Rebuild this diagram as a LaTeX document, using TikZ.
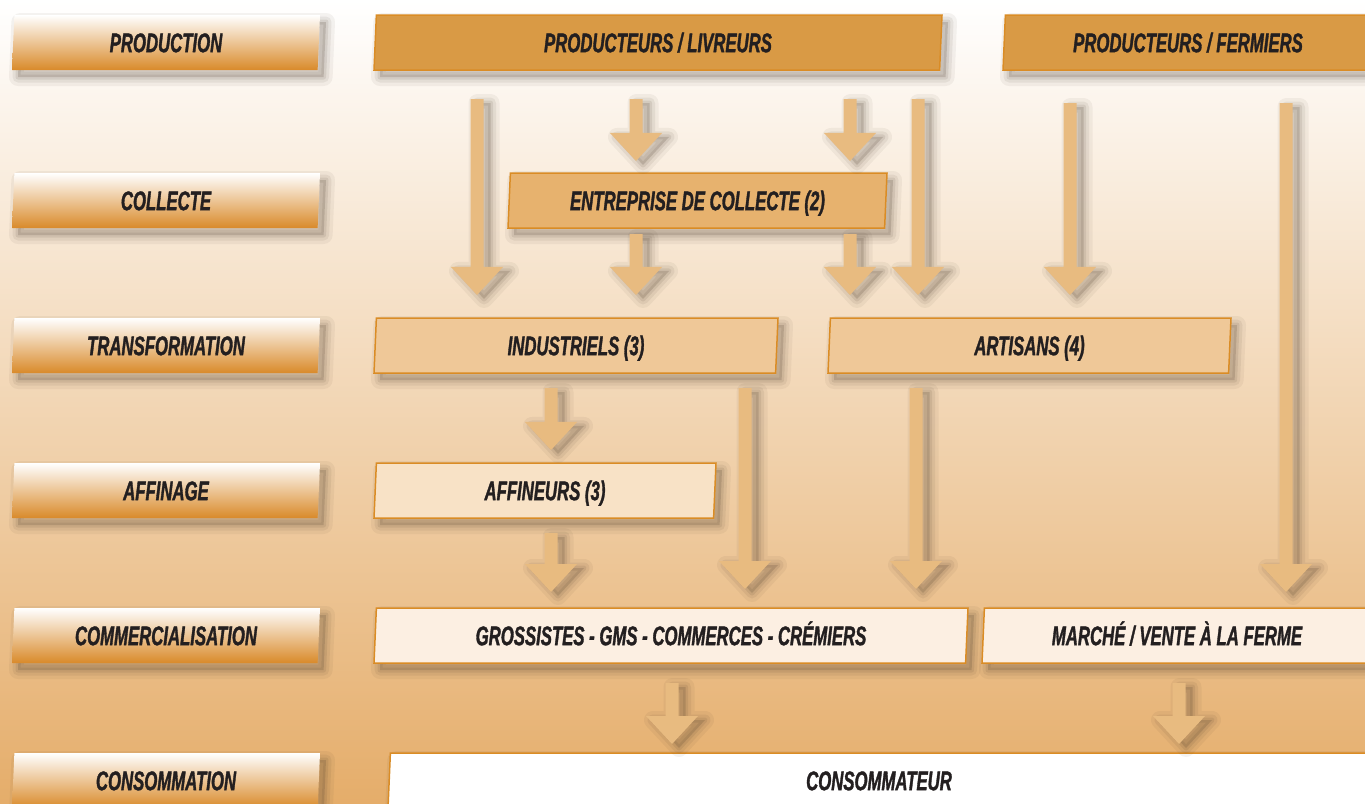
\documentclass[tikz,border=0pt]{standalone}
\usepackage{fontspec}
\newfontfamily\cnfont[FakeStretch=0.62, FakeBold=1.2]{Liberation Sans}
\usetikzlibrary{shapes.geometric,calc}

\definecolor{bgbot}{HTML}{E5AD6A}
\definecolor{lblmid}{HTML}{EEBE86}
\definecolor{lblbot}{HTML}{D98A2A}
\definecolor{brd}{HTML}{DA8C25}
\definecolor{prodfill}{HTML}{D99A45}
\definecolor{colfill}{HTML}{E7B26E}
\definecolor{trfill}{HTML}{EFC898}
\definecolor{affill}{HTML}{F8E2C6}
\definecolor{comfill}{HTML}{FCEFE2}
\definecolor{arrfill}{HTML}{E8BB80}
\definecolor{txtcol}{HTML}{231F20}
\definecolor{shcol}{HTML}{4A3A2A}

\tikzset{
  % soft shadow made of a few see-through layers
  softshadow/.style 2 args={
    preaction={draw=shcol, opacity=0.06, line width=9pt, line join=round, transform canvas={xshift=#1,yshift=#2}},
    preaction={draw=shcol, opacity=0.08, line width=5.5pt, line join=round, transform canvas={xshift=#1,yshift=#2}},
    preaction={draw=shcol, opacity=0.10, line width=2.5pt, line join=round, transform canvas={xshift=#1,yshift=#2}},
    preaction={fill=shcol, opacity=0.18, transform canvas={xshift=#1,yshift=#2}}},
  slbox/.style={trapezium, trapezium left angle=83, trapezium right angle=97,
    trapezium stretches body, minimum height=27.5pt, inner sep=0pt, outer sep=0pt,
    font=\cnfont\bfseries\itshape\fontsize{13.5}{16}\selectfont, text=txtcol,
    text height=9.7pt, text depth=0pt, softshadow={3pt}{-3.5pt}},
  lbl/.style={slbox, minimum width=154pt, top color=white, middle color=lblmid, bottom color=lblbot},
  flowbox/.style={slbox, draw=brd, line width=0.75pt, fill=#1},
  arrowsty/.style={fill=arrfill, softshadow={3.5pt}{-2pt}}
}

% fat arrow: x (px), from node, to node, gap below source, gap above target (px)
\newcommand{\fatarr}[5]{%
  \fill[arrowsty] let \p1=(#2.south), \p2=(#3.north) in
    (#1*0.5pt-3.25pt,\y1-#4*0.5pt) -- (#1*0.5pt+3.25pt,\y1-#4*0.5pt)
    -- (#1*0.5pt+3.25pt,\y2+#5*0.5pt+14pt) -- (#1*0.5pt+13pt,\y2+#5*0.5pt+14pt)
    -- (#1*0.5pt,\y2+#5*0.5pt) -- (#1*0.5pt-13pt,\y2+#5*0.5pt+14pt)
    -- (#1*0.5pt-3.25pt,\y2+#5*0.5pt+14pt) -- cycle;}

\begin{document}
\begin{tikzpicture}[x=0.5pt,y=-0.5pt]
	\useasboundingbox (0,0) rectangle (1365,803);
	% background
	\fill[top color=white, bottom color=bgbot] (0,0) rectangle (1365,803);
	
	% stage labels on the left
	\node[lbl] (lprod) at (166,42.5) {PRODUCTION};
	\node[lbl] (lcol) at (166,200.5) {COLLECTE};
	\node[lbl] (ltrans) at (166,345.5) {TRANSFORMATION};
	\node[lbl] (laff) at (166,490.5) {AFFINAGE};
	\node[lbl] (lcom) at (166,635.5) {COMMERCIALISATION};
	\node[lbl] (lcons) at (166,780.5) {CONSOMMATION};
	
	% production
	\node[flowbox=prodfill, minimum width=284pt] (prodliv) at (658,42.5) {PRODUCTEURS / LIVREURS};
	\node[flowbox=prodfill, minimum width=185pt] (prodferm) at (1188,42.5) {PRODUCTEURS / FERMIERS};
	
	% collecte
	\node[flowbox=colfill, minimum width=189.5pt] (collecte) at (697.5,200.5) {ENTREPRISE DE COLLECTE (2)};
	
	% transformation
	\node[flowbox=trfill, minimum width=202pt] (indus) at (576,345.5) {INDUSTRIELS (3)};
	\node[flowbox=trfill, minimum width=201.5pt] (artis) at (1029.5,345.5) {ARTISANS (4)};
	
	% affinage
	\node[flowbox=affill, minimum width=171pt] (affin) at (545,490.5) {AFFINEURS (3)};
	
	% commercialisation
	\node[flowbox=comfill, minimum width=297pt] (gross) at (671,635.5) {GROSSISTES - GMS - COMMERCES - CRÉMIERS};
	\node[flowbox=comfill, minimum width=195pt] (marche) at (1177,635.5) {MARCHÉ / VENTE À LA FERME};
	
	% consommation
	\node[flowbox=white, minimum width=491pt] (conso) at (879,780.5) {CONSOMMATEUR};
	
	% arrows from production
	\fatarr{477}{prodliv}{indus}{29}{23}
	\fatarr{636}{prodliv}{collecte}{29}{12}
	\fatarr{850}{prodliv}{collecte}{29}{12}
	\fatarr{918}{prodliv}{artis}{29}{23}
	\fatarr{1070}{prodferm}{artis}{33}{23}
	\fatarr{1286}{prodferm}{marche}{33}{16}
	
	% arrows from collecte
	\fatarr{636}{collecte}{indus}{6}{23}
	\fatarr{850}{collecte}{artis}{6}{23}
	
	% arrows from transformation and affinage
	\fatarr{551}{indus}{affin}{15}{13}
	\fatarr{745}{indus}{gross}{15}{19}
	\fatarr{916}{artis}{gross}{15}{19}
	\fatarr{551}{affin}{gross}{15}{16}
	
	% arrows to the consumer
	\fatarr{672}{gross}{conso}{20}{9}
	\fatarr{1179}{marche}{conso}{20}{9}
\end{tikzpicture}
\end{document}
